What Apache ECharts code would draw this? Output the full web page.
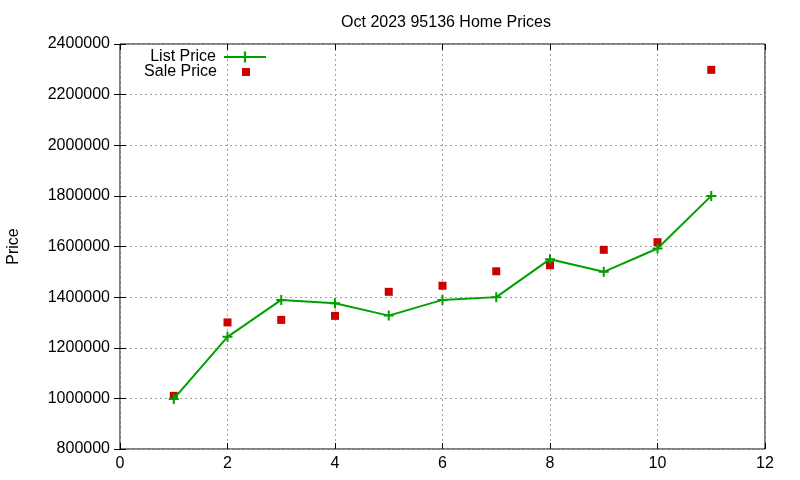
<!DOCTYPE html>
<html>
<head>
<meta charset="utf-8">
<script src="https://cdn.jsdelivr.net/npm/echarts@6/dist/echarts.min.js"></script>
<style>
    html, body {margin: 0; padding: 0; background: #fff;}
    #chart {width: 800px; height: 480px;}
</style>
</head>
<body>
<div id="chart"></div>
<script>
    // 数据
    const months = [1, 2, 3, 4, 5, 6, 7, 8, 9, 10, 11]
    const listPrice = [998000, 1243000, 1389000, 1376000, 1327000, 1389000, 1400000, 1550000, 1500000, 1592000, 1800000]
    const salePrice = [1010000, 1300000, 1310000, 1326000, 1421000, 1445000, 1502000, 1526000, 1587000, 1617000, 2298000]

    const green = '#00a000'
    const red = '#cc0000'
    const plusIcon = 'path://M4,0H6V4H10V6H6V10H4V6H0V4H4Z'
    const font = 'Liberation Sans'
    const fs = 16

    const myChart = echarts.init(document.getElementById('chart'))

    const gridLine = {show: true, lineStyle: {color: '#a0a0a0', type: [2, 3], width: 1}}
    const tick = {show: true, inside: true, length: 6, lineStyle: {color: '#000'}}
    const legendText = {fontSize: fs, color: '#000', fontFamily: font}

    const option = {
        animation: false,
        backgroundColor: '#fff',
        textStyle: {fontFamily: font},
        title: {
            text: 'Oct 2023 95136 Home Prices',
            left: 441,
            top: 10,
            textAlign: 'center',
            textStyle: {fontSize: fs, fontWeight: 'normal', color: '#000', fontFamily: font}
        },
        legend: [{
            right: 533,
            top: 49,
            padding: 0,
            align: 'right',
            itemWidth: 42,
            itemHeight: 14,
            textStyle: Object.assign({padding: [0, 3, 0, 0]}, legendText),
            data: ['List Price']
        }, {
            right: 550,
            top: 64,
            padding: 0,
            align: 'right',
            itemWidth: 8,
            itemHeight: 8,
            textStyle: Object.assign({padding: [0, 20, 0, 0]}, legendText),
            data: [{name: 'Sale Price', icon: 'rect'}]
        }],
        grid: {
            left: 120,
            right: 35,
            top: 44,
            bottom: 31,
            outerBoundsMode: 'none',
            containLabel: false,
            show: true,
            borderColor: '#000',
            borderWidth: 1
        },
        xAxis: [{
            type: 'value',
            min: 0,
            max: 12,
            interval: 2,
            axisLine: {show: false},
            axisTick: tick,
            splitLine: gridLine,
            axisLabel: {fontSize: fs, color: '#000', margin: 7, fontFamily: font}
        }, {
            type: 'value',
            position: 'top',
            min: 0,
            max: 12,
            interval: 2,
            axisLine: {show: false},
            axisTick: tick,
            splitLine: {show: false},
            axisLabel: {show: false}
        }],
        yAxis: [{
            type: 'value',
            min: 800000,
            max: 2400000,
            interval: 200000,
            name: 'Price',
            nameLocation: 'middle',
            nameGap: 98,
            nameRotate: 90,
            nameTextStyle: {fontSize: fs, color: '#000', fontFamily: font},
            axisLine: {show: false},
            axisTick: tick,
            splitLine: gridLine,
            axisLabel: {fontSize: fs, color: '#000', margin: 10, fontFamily: font, formatter: v => String(v)}
        }, {
            type: 'value',
            position: 'right',
            min: 800000,
            max: 2400000,
            interval: 200000,
            axisLine: {show: false},
            axisTick: tick,
            splitLine: {show: false},
            axisLabel: {show: false}
        }],
        series: [
            {
                name: 'List Price',
                type: 'line',
                data: months.map((m, i) => [m, listPrice[i]]),
                symbol: plusIcon,
                symbolSize: 10,
                showAllSymbol: true,
                itemStyle: {color: green},
                lineStyle: {color: green, width: 2}
            },
            {
                name: 'Sale Price',
                type: 'scatter',
                data: months.map((m, i) => [m, salePrice[i]]),
                symbol: 'rect',
                symbolSize: 8,
                itemStyle: {color: red, opacity: 1}
            }
        ]
    }
    myChart.setOption(option)
</script>
</body>
</html>
